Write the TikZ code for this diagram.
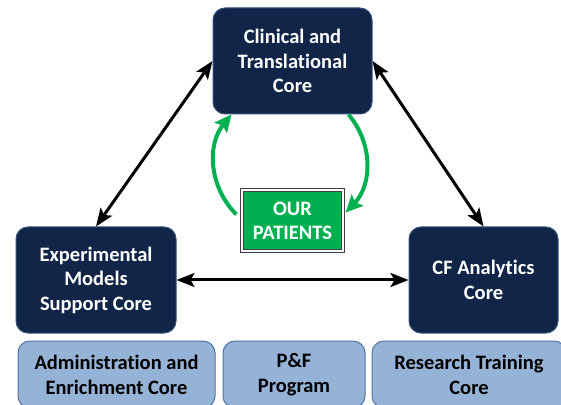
\documentclass[tikz,border=0pt]{standalone}
\usepackage{fontspec}
\setmainfont{Carlito}[Ligatures=CommonOff]
\usetikzlibrary{arrows.meta}

\definecolor{navy}{RGB}{16,37,71}
\definecolor{navyedge}{RGB}{52,82,122}
\definecolor{paleblue}{RGB}{149,179,215}
\definecolor{paleedge}{RGB}{84,114,156}
\definecolor{patgreen}{RGB}{0,176,80}

\tikzset{
  corebox/.style={draw=navyedge, line width=1pt, fill=navy, rounded corners=12pt,
    text=white, font=\fontsize{20.5}{24.5}\selectfont\bfseries, align=center, inner sep=0pt},
  supportbox/.style={draw=paleedge, line width=1pt, fill=paleblue, rounded corners=12pt,
    text=black, font=\fontsize{20.5}{25}\selectfont\bfseries, align=center, inner sep=0pt},
  patientbox/.style={draw=black!75, line width=1.3pt, double=white, double distance=1.6pt,
    fill=patgreen, text=white, font=\fontsize{20.5}{24}\selectfont\bfseries, align=center,
    inner sep=0pt, minimum width=101pt, minimum height=61pt},
  biarrow/.style={line width=3pt,
    {Stealth[length=18pt,width=14pt,inset=4pt]}-{Stealth[length=18pt,width=14pt,inset=4pt]}},
  greenarc/.style={line width=4pt, draw=patgreen, -{Stealth[length=17pt,width=16pt,inset=3pt]}}
}

\begin{document}
\begin{tikzpicture}[x=1pt,y=1pt]
  \useasboundingbox (0,0) rectangle (561,404);
  % cores
  \node[corebox, minimum width=159pt, minimum height=106pt] (clin) at (292.5,343)
    {Clinical and\\Translational\\Core};
  \node[corebox, minimum width=160pt, minimum height=106pt] (models) at (96,124)
    {Experimental\\Models\\Support Core};
  \node[corebox, minimum width=149pt, minimum height=106pt] (analytics) at (483.5,124)
    {CF Analytics\\Core};
  \node[patientbox] (patients) at (292.5,183.5) {OUR\\PATIENTS};
  % support row
  \node[supportbox, minimum width=197pt, minimum height=67pt] (admin) at (116.5,29.5)
    {Administration and\\Enrichment Core};
  \node[supportbox, minimum width=142pt, minimum height=67pt] (pf) at (294,29.5)
    {P\&F\\Program};
  \node[supportbox, minimum width=194pt, minimum height=67pt] (research) at (469,29.5)
    {Research Training\\Core};
  % links
  \draw[biarrow] (clin.west) -- (models.north);
  \draw[biarrow] (clin.east) -- (analytics.north);
  \draw[biarrow] (models.east) -- (analytics.west);
  \draw[greenarc] ([xshift=-5pt,yshift=6pt]patients.west) to[bend left=42]
    ([xshift=19pt]clin.south west);
  \draw[greenarc] ([xshift=-24pt]clin.south east) to[bend left=42]
    ([xshift=2pt,yshift=8pt]patients.east);
\end{tikzpicture}
\end{document}
